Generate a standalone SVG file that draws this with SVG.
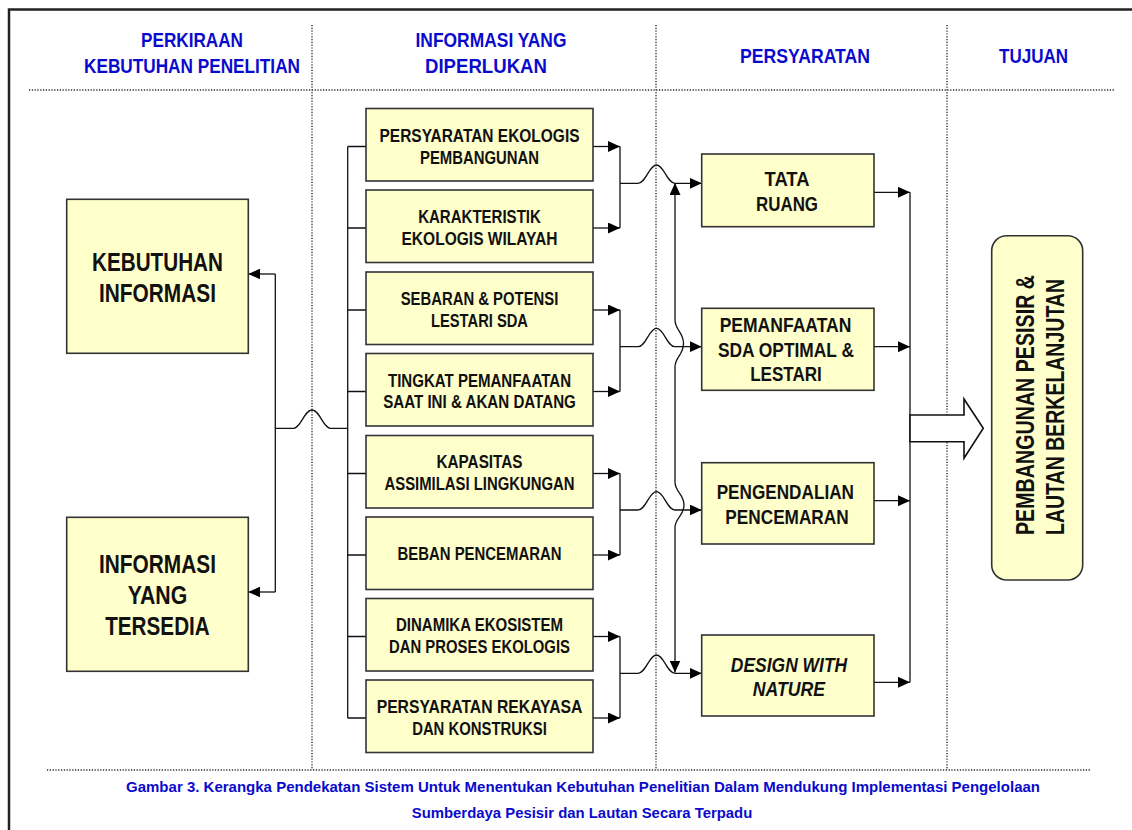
<svg xmlns="http://www.w3.org/2000/svg" width="1132" height="830" viewBox="0 0 1132 830">
<defs>
<marker id="ah" viewBox="0 0 12 11" refX="12" refY="5.5" markerWidth="12" markerHeight="11" markerUnits="userSpaceOnUse" orient="auto-start-reverse">
<path d="M0,0 L12,5.5 L0,11 Z" fill="#000"/>
</marker>
</defs>
<style>
.t{font-family:"Liberation Sans Narrow","Arial Narrow","Liberation Sans",Arial,sans-serif;font-weight:bold;text-anchor:middle}
.hd{fill:#0A0ACC;font-size:21px}
.cap{fill:#0A0ACC;font-size:15px}
.mb{fill:#111;font-size:18px}
.lb{fill:#111;font-size:25px}
.rb{fill:#111;font-size:20.5px}
.box{fill:#FFFFCC;stroke:#333;stroke-width:1.6}
.dot{stroke:#222;stroke-width:1.3;stroke-dasharray:1.2 1.6;fill:none}
.ln{stroke:#111;stroke-width:1.3;fill:none}
.arr{stroke:#111;stroke-width:1.3;fill:none;marker-end:url(#ah)}
</style>
<rect width="1132" height="830" fill="#fff"/>
<!-- frame -->
<path d="M9,830 V9.5 H1132" fill="none" stroke="#222" stroke-width="2.5"/>
<!-- dotted grid -->
<g id="grid">
<line class="dot" x1="29" y1="90" x2="1115" y2="90"/>
<line class="dot" x1="47" y1="770" x2="1090" y2="770"/>
<line class="dot" x1="312" y1="25" x2="312" y2="770"/>
<line class="dot" x1="656" y1="25" x2="656" y2="770"/>
<line class="dot" x1="947" y1="25" x2="947" y2="770"/>
</g>
<!-- headers -->
<g id="headers" class="t hd">
<text x="192" y="46.7" textLength="102" lengthAdjust="spacingAndGlyphs">PERKIRAAN</text>
<text x="192" y="72.7" textLength="216" lengthAdjust="spacingAndGlyphs">KEBUTUHAN PENELITIAN</text>
<text x="491" y="46.7" textLength="151" lengthAdjust="spacingAndGlyphs">INFORMASI YANG</text>
<text x="486" y="72.7" textLength="122" lengthAdjust="spacingAndGlyphs">DIPERLUKAN</text>
<text x="805" y="63.3" textLength="130" lengthAdjust="spacingAndGlyphs">PERSYARATAN</text>
<text x="1033.5" y="63.3" textLength="69" lengthAdjust="spacingAndGlyphs">TUJUAN</text>
</g>
<!-- connectors -->
<g id="connectors">
<!-- left: to KEBUTUHAN / INFORMASI -->
<path class="ln" d="M275.3,274 V592"/>
<line class="arr" x1="275.3" y1="274" x2="248.3" y2="274"/>
<line class="arr" x1="275.3" y1="592" x2="248.3" y2="592"/>
<path class="ln" d="M275.3,428.3 H293.5 C301,428.3 304,410 312,410 C320,410 323,428.3 330.5,428.3 H347.7"/>
<!-- bracket -->
<path class="ln" d="M347.7,146.5 V718"/>
<path class="ln" d="M347.7,146.5 H366 M347.7,228 H366 M347.7,310 H366 M347.7,391.5 H366 M347.7,473.5 H366 M347.7,555 H366 M347.7,636.5 H366 M347.7,718 H366"/>
<!-- right stubs of middle boxes -->
<line class="arr" x1="593" y1="146.5" x2="620" y2="146.5"/>
<line class="arr" x1="593" y1="228" x2="620" y2="228"/>
<line class="arr" x1="593" y1="310" x2="620" y2="310"/>
<line class="arr" x1="593" y1="391.5" x2="620" y2="391.5"/>
<line class="arr" x1="593" y1="473.5" x2="620" y2="473.5"/>
<line class="arr" x1="593" y1="555" x2="620" y2="555"/>
<line class="arr" x1="593" y1="636.5" x2="620" y2="636.5"/>
<line class="arr" x1="593" y1="718" x2="620" y2="718"/>
<path class="ln" d="M620,146.5 V228 M620,310 V391.5 M620,473.5 V555 M620,636.5 V718"/>
<!-- merged lines into right boxes with hops -->
<path class="arr" d="M620,183.3 H638 C646,183.3 649,165 656.5,165 C664,165 667,183.3 675,183.3 H701.7"/>
<path class="arr" d="M620,346.7 H638 C646,346.7 649,328.4 656.5,328.4 C664,328.4 667,346.7 675,346.7 H701.7"/>
<path class="arr" d="M620,510 H638 C646,510 649,491.7 656.5,491.7 C664,491.7 667,510 675,510 H701.7"/>
<path class="arr" d="M620,673.3 H638 C646,673.3 649,655 656.5,655 C664,655 667,673.3 675,673.3 H701.7"/>
<!-- vertical feedback line with bulges -->
<path class="ln" d="M675,183 V320 C675,330 683.5,332 683.5,343.5 C683.5,355 675,357 675,367 V482 C675,492 684,494 684,505 C684,516 675,518 675,527.5 V672.5" marker-start="url(#ah)" marker-end="url(#ah)"/>
<!-- right outputs -->
<line class="arr" x1="874" y1="192.3" x2="910" y2="192.3"/>
<line class="arr" x1="874" y1="346.7" x2="910" y2="346.7"/>
<line class="arr" x1="874" y1="500.7" x2="910" y2="500.7"/>
<line class="arr" x1="874" y1="682.3" x2="910" y2="682.3"/>
<path class="ln" d="M910,192.3 V682.3" stroke-width="1.5"/>
<polygon points="910,415 964,415 964,399 983.3,428.3 964,458.3 964,441.7 910,441.7" fill="#fff" stroke="#111" stroke-width="1.6"/>
</g>
<!-- left nodes -->
<g id="n-kebutuhan">
<rect class="box" x="66.7" y="199.3" width="181.6" height="154"/>
<text class="t lb" x="157.5" y="270.9" textLength="131" lengthAdjust="spacingAndGlyphs">KEBUTUHAN</text>
<text class="t lb" x="157.5" y="301.9" textLength="117" lengthAdjust="spacingAndGlyphs">INFORMASI</text>
</g>
<g id="n-tersedia">
<rect class="box" x="66.7" y="517.3" width="181.6" height="154"/>
<text class="t lb" x="157.5" y="573" textLength="117" lengthAdjust="spacingAndGlyphs">INFORMASI</text>
<text class="t lb" x="157.5" y="604" textLength="59.5" lengthAdjust="spacingAndGlyphs">YANG</text>
<text class="t lb" x="157.5" y="635" textLength="104.6" lengthAdjust="spacingAndGlyphs">TERSEDIA</text>
</g>
<!-- middle nodes -->
<g id="n-m1">
<rect class="box" x="366" y="108.5" width="227" height="72.5"/>
<text class="t mb" x="479.5" y="141.5" textLength="200" lengthAdjust="spacingAndGlyphs">PERSYARATAN  EKOLOGIS</text>
<text class="t mb" x="479.5" y="163.5" textLength="119" lengthAdjust="spacingAndGlyphs">PEMBANGUNAN</text>
</g>
<g id="n-m2">
<rect class="box" x="366" y="190" width="227" height="72.5"/>
<text class="t mb" x="479.5" y="223" textLength="122.7" lengthAdjust="spacingAndGlyphs">KARAKTERISTIK</text>
<text class="t mb" x="479.5" y="245" textLength="156" lengthAdjust="spacingAndGlyphs">EKOLOGIS  WILAYAH</text>
</g>
<g id="n-m3">
<rect class="box" x="366" y="272" width="227" height="72.5"/>
<text class="t mb" x="479.5" y="305" textLength="157.7" lengthAdjust="spacingAndGlyphs">SEBARAN &amp; POTENSI</text>
<text class="t mb" x="479.5" y="327" textLength="97" lengthAdjust="spacingAndGlyphs">LESTARI SDA</text>
</g>
<g id="n-m4">
<rect class="box" x="366" y="353.5" width="227" height="72.5"/>
<text class="t mb" x="479.5" y="386.5" textLength="183" lengthAdjust="spacingAndGlyphs">TINGKAT PEMANFAATAN</text>
<text class="t mb" x="479.5" y="408.3" textLength="192.7" lengthAdjust="spacingAndGlyphs">SAAT INI &amp; AKAN DATANG</text>
</g>
<g id="n-m5">
<rect class="box" x="366" y="435.5" width="227" height="72.5"/>
<text class="t mb" x="479.5" y="468.3" textLength="86" lengthAdjust="spacingAndGlyphs">KAPASITAS</text>
<text class="t mb" x="479.5" y="490.3" textLength="190" lengthAdjust="spacingAndGlyphs">ASSIMILASI LINGKUNGAN</text>
</g>
<g id="n-m6">
<rect class="box" x="366" y="517" width="227" height="72.5"/>
<text class="t mb" x="479.5" y="560.3" textLength="164" lengthAdjust="spacingAndGlyphs">BEBAN PENCEMARAN</text>
</g>
<g id="n-m7">
<rect class="box" x="366" y="598.5" width="227" height="72.5"/>
<text class="t mb" x="479.5" y="631.3" textLength="167" lengthAdjust="spacingAndGlyphs">DINAMIKA EKOSISTEM</text>
<text class="t mb" x="479.5" y="653" textLength="181" lengthAdjust="spacingAndGlyphs">DAN PROSES EKOLOGIS</text>
</g>
<g id="n-m8">
<rect class="box" x="366" y="680" width="227" height="72.5"/>
<text class="t mb" x="479.5" y="713" textLength="205.7" lengthAdjust="spacingAndGlyphs">PERSYARATAN  REKAYASA</text>
<text class="t mb" x="479.5" y="734.6" textLength="134.7" lengthAdjust="spacingAndGlyphs">DAN KONSTRUKSI</text>
</g>
<!-- right nodes -->
<g id="n-tata">
<rect class="box" x="701.7" y="154" width="172.3" height="72.7"/>
<text class="t rb" x="787" y="185.6" textLength="45" lengthAdjust="spacingAndGlyphs">TATA</text>
<text class="t rb" x="787" y="210.6" textLength="62" lengthAdjust="spacingAndGlyphs">RUANG</text>
</g>
<g id="n-pemanfaatan">
<rect class="box" x="701.7" y="308.3" width="172.3" height="82"/>
<text class="t rb" x="785.5" y="332.3" textLength="131.7" lengthAdjust="spacingAndGlyphs">PEMANFAATAN</text>
<text class="t rb" x="786" y="356.5" textLength="136" lengthAdjust="spacingAndGlyphs">SDA OPTIMAL &amp;</text>
<text class="t rb" x="786" y="381.4" textLength="71.7" lengthAdjust="spacingAndGlyphs">LESTARI</text>
</g>
<g id="n-pengendalian">
<rect class="box" x="701.7" y="462.7" width="172.3" height="81.3"/>
<text class="t rb" x="785.3" y="499" textLength="137.3" lengthAdjust="spacingAndGlyphs">PENGENDALIAN</text>
<text class="t rb" x="787" y="524" textLength="123.3" lengthAdjust="spacingAndGlyphs">PENCEMARAN</text>
</g>
<g id="n-design">
<rect class="box" x="701.7" y="635" width="172.3" height="81"/>
<text class="t rb" x="789" y="671.6" font-style="italic" textLength="116.3" lengthAdjust="spacingAndGlyphs">DESIGN WITH</text>
<text class="t rb" x="789" y="695.6" font-style="italic" textLength="72.3" lengthAdjust="spacingAndGlyphs">NATURE</text>
</g>
<!-- goal node -->
<g id="n-tujuan">
<rect class="box" x="991.7" y="235.7" width="91" height="344.3" rx="15" ry="15"/>
<text class="t lb" transform="translate(1034,405) rotate(-90)" x="0" y="0" textLength="260" lengthAdjust="spacingAndGlyphs">PEMBANGUNAN PESISIR &amp;</text>
<text class="t lb" transform="translate(1064,407) rotate(-90)" x="0" y="0" textLength="256" lengthAdjust="spacingAndGlyphs">LAUTAN BERKELANJUTAN</text>
</g>
<!-- caption -->
<g id="caption" class="t cap">
<text x="583" y="792" textLength="914" lengthAdjust="spacingAndGlyphs">Gambar 3.  Kerangka Pendekatan Sistem Untuk Menentukan Kebutuhan Penelitian Dalam Mendukung Implementasi Pengelolaan</text>
<text x="582" y="817.5" textLength="340.5" lengthAdjust="spacingAndGlyphs">Sumberdaya Pesisir dan Lautan Secara Terpadu</text>
</g>
</svg>
